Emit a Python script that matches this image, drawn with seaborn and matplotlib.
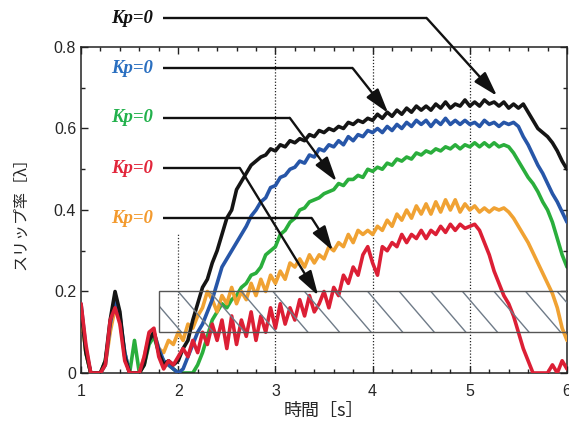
import numpy as np
import pandas as pd
import matplotlib
matplotlib.use("Agg")
import matplotlib.pyplot as plt
import seaborn as sns
from matplotlib.patches import Rectangle
from matplotlib.ticker import MultipleLocator, FixedLocator

# Slip ratio traces, sampled every 0.05 s from 1.0 s to 6.0 s
black = [0.16, 0.05, 0.00, 0.00, 0.00, 0.03, 0.13, 0.20, 0.15, 0.04,
         0.00, 0.00, 0.00, 0.02, 0.08, 0.10, 0.05, 0.02, 0.03, 0.02,
         0.03, 0.06, 0.08, 0.13, 0.17, 0.21, 0.23, 0.27, 0.30, 0.34,
         0.38, 0.40, 0.45, 0.47, 0.49, 0.51, 0.52, 0.53, 0.535, 0.55,
         0.545, 0.56, 0.555, 0.57, 0.565, 0.575, 0.57, 0.585, 0.58, 0.595,
         0.59, 0.60, 0.595, 0.605, 0.60, 0.615, 0.61, 0.62, 0.615, 0.625,
         0.62, 0.635, 0.625, 0.64, 0.63, 0.645, 0.635, 0.65, 0.64, 0.655,
         0.645, 0.655, 0.645, 0.66, 0.65, 0.665, 0.65, 0.66, 0.655, 0.67,
         0.655, 0.665, 0.655, 0.67, 0.66, 0.665, 0.655, 0.665, 0.65, 0.66,
         0.65, 0.66, 0.64, 0.62, 0.60, 0.59, 0.58, 0.565, 0.545, 0.52,
         0.50]
blue = [0.17, 0.06, 0.00, 0.00, 0.00, 0.02, 0.12, 0.18, 0.14, 0.05,
        0.00, 0.00, 0.00, 0.03, 0.08, 0.10, 0.06, 0.03, 0.02, 0.01,
        0.00, 0.01, 0.04, 0.07, 0.10, 0.12, 0.15, 0.18, 0.22, 0.26,
        0.28, 0.30, 0.32, 0.34, 0.36, 0.385, 0.40, 0.42, 0.43, 0.455,
        0.46, 0.48, 0.485, 0.50, 0.505, 0.52, 0.515, 0.535, 0.53, 0.55,
        0.545, 0.56, 0.555, 0.57, 0.56, 0.58, 0.57, 0.585, 0.58, 0.595,
        0.59, 0.60, 0.59, 0.605, 0.595, 0.61, 0.60, 0.615, 0.605, 0.62,
        0.61, 0.62, 0.605, 0.62, 0.61, 0.625, 0.61, 0.62, 0.61, 0.62,
        0.61, 0.615, 0.605, 0.62, 0.61, 0.615, 0.605, 0.615, 0.61, 0.615,
        0.605, 0.58, 0.56, 0.535, 0.51, 0.49, 0.465, 0.44, 0.42, 0.395,
        0.37]
green = [0.16, 0.05, 0.00, 0.00, 0.00, 0.03, 0.11, 0.17, 0.13, 0.05,
         0.00, 0.08, 0.00, 0.02, 0.07, 0.09, 0.05, 0.03, 0.02, 0.01,
         0.00, 0.00, 0.00, 0.00, 0.02, 0.05, 0.09, 0.13, 0.15, 0.17,
         0.16, 0.18, 0.19, 0.21, 0.22, 0.24, 0.245, 0.26, 0.29, 0.30,
         0.31, 0.34, 0.35, 0.37, 0.38, 0.40, 0.405, 0.42, 0.425, 0.43,
         0.44, 0.445, 0.45, 0.465, 0.46, 0.475, 0.475, 0.485, 0.48, 0.50,
         0.495, 0.505, 0.50, 0.515, 0.51, 0.525, 0.52, 0.53, 0.525, 0.54,
         0.535, 0.545, 0.54, 0.55, 0.545, 0.555, 0.55, 0.56, 0.55, 0.56,
         0.555, 0.565, 0.555, 0.565, 0.555, 0.565, 0.555, 0.56, 0.555, 0.54,
         0.52, 0.50, 0.48, 0.465, 0.445, 0.42, 0.40, 0.37, 0.33, 0.29,
         0.26]
orange = [0.15, 0.05, 0.00, 0.00, 0.00, 0.02, 0.10, 0.16, 0.13, 0.04,
          0.00, 0.00, 0.00, 0.04, 0.09, 0.10, 0.06, 0.05, 0.08, 0.07,
          0.10, 0.08, 0.12, 0.11, 0.14, 0.16, 0.20, 0.18, 0.15, 0.19,
          0.17, 0.21, 0.17, 0.20, 0.18, 0.22, 0.19, 0.23, 0.20, 0.24,
          0.22, 0.25, 0.23, 0.27, 0.26, 0.28, 0.26, 0.29, 0.27, 0.29,
          0.28, 0.31, 0.30, 0.32, 0.31, 0.34, 0.32, 0.35, 0.34, 0.35,
          0.34, 0.36, 0.35, 0.375, 0.36, 0.39, 0.375, 0.40, 0.38, 0.41,
          0.39, 0.415, 0.39, 0.42, 0.395, 0.425, 0.40, 0.425, 0.395, 0.415,
          0.40, 0.41, 0.395, 0.405, 0.395, 0.405, 0.40, 0.405, 0.395, 0.38,
          0.36, 0.34, 0.32, 0.295, 0.27, 0.245, 0.22, 0.195, 0.16, 0.11,
          0.08]
red = [0.17, 0.07, 0.00, 0.00, 0.00, 0.02, 0.13, 0.16, 0.12, 0.03,
       0.00, 0.00, 0.00, 0.04, 0.10, 0.11, 0.04, 0.01, 0.03, 0.02,
       0.04, 0.06, 0.04, 0.08, 0.05, 0.10, 0.07, 0.12, 0.08, 0.13,
       0.06, 0.14, 0.07, 0.13, 0.09, 0.15, 0.08, 0.14, 0.10, 0.16,
       0.11, 0.17, 0.12, 0.16, 0.13, 0.18, 0.14, 0.19, 0.15, 0.17,
       0.20, 0.16, 0.21, 0.19, 0.24, 0.22, 0.26, 0.24, 0.29, 0.31,
       0.27, 0.24, 0.31, 0.30, 0.32, 0.31, 0.34, 0.32, 0.34, 0.33,
       0.35, 0.33, 0.35, 0.34, 0.36, 0.345, 0.365, 0.35, 0.365, 0.355,
       0.36, 0.365, 0.35, 0.32, 0.29, 0.25, 0.22, 0.19, 0.17, 0.14,
       0.10, 0.06, 0.03, 0.00, 0.00, 0.00, 0.00, 0.02, 0.00, 0.03,
       0.01]

series_names = ["green", "orange", "blue", "black", "red"]
series_values = {"black": black, "blue": blue, "green": green,
                 "orange": orange, "red": red}
line_colors = {"black": "#151515", "blue": "#2756a8", "green": "#2aae3c",
               "orange": "#f0a233", "red": "#dc1f35"}

# Call-out labels (top to bottom) and where their arrows point
label_text = "Kp=0"
label_order = ["black", "blue", "green", "red", "orange"]
label_colors = {"black": "#111111", "blue": "#2a6fc0", "green": "#22b14c",
                "red": "#e2263b", "orange": "#f39a2e"}
label_y = {"black": 0.871, "blue": 0.748, "green": 0.626,
           "red": 0.503, "orange": 0.380}
bend_x = {"black": 4.556, "blue": 3.795, "green": 3.148,
          "red": 2.634, "orange": 3.374}
tip_xy = {"black": (5.28, 0.68), "blue": (4.16, 0.638), "green": (3.63, 0.47),
          "red": (3.44, 0.19), "orange": (3.59, 0.30)}

frames = []
for name in series_names:
    vals = series_values[name]
    frames.append(pd.DataFrame({"time": np.linspace(1.0, 6.0, len(vals)),
                                "slip": vals, "trace": name}))
df = pd.concat(frames, ignore_index=True)

sns.set_style("ticks")
plt.rcParams["font.family"] = ["Liberation Sans", "Noto Sans CJK JP", "DejaVu Sans"]

fig = plt.figure(figsize=(5.69, 4.23), dpi=100)
ax = fig.add_axes([0.1424, 0.1182, 0.8541, 0.7707])

# dotted guides
for xv in [3, 4, 5]:
    ax.axvline(xv, color="#222222", lw=0.9, ls=(0, (1, 1.5)), zorder=1)
ax.vlines(2, 0, 0.34, color="#333333", lw=0.9, ls=(0, (1, 1.5)), zorder=1)

for i, name in enumerate(series_names):
    sns.lineplot(data=df[df["trace"] == name], x="time", y="slip",
                 color=line_colors[name], lw=2.6, ax=ax, estimator=None,
                 sort=False, zorder=2 + i)

# hatched target band
band = Rectangle((1.8, 0.1), 4.2, 0.1, fill=False, edgecolor="#555555",
                 lw=1.0, zorder=10)
ax.add_patch(band)
hatch_step, hatch_run = 0.325, 0.36
for k in range(-2, 14):
    x0 = 2.0 + k * hatch_step
    ln, = ax.plot([x0, x0 + hatch_run], [0.2, 0.1], color="#6f7b88", lw=1.0,
                  zorder=9)
    ln.set_clip_path(band)

# call-outs
for name in label_order:
    y = label_y[name]
    ax.text(1.74, y, label_text, color=label_colors[name], ha="right",
            va="center", fontsize=13.5, fontweight="bold", fontstyle="italic",
            family=["Liberation Serif"], clip_on=False, zorder=20)
    ax.plot([1.845, bend_x[name]], [y, y], color="#111111", lw=1.7,
            clip_on=False, zorder=20, solid_capstyle="butt")
    ax.annotate("", xy=tip_xy[name], xytext=(bend_x[name], y),
                arrowprops=dict(arrowstyle="-|>,head_length=1.5,head_width=0.45",
                                color="#111111", lw=1.7, shrinkA=0, shrinkB=0,
                                mutation_scale=10),
                annotation_clip=False, zorder=20)

ax.set_xlim(1, 6)
ax.set_ylim(0, 0.8)
ax.xaxis.set_major_locator(FixedLocator([1, 2, 3, 4, 5, 6]))
ax.xaxis.set_minor_locator(MultipleLocator(0.2))
ax.yaxis.set_major_locator(FixedLocator([0, 0.2, 0.4, 0.6, 0.8]))
ax.yaxis.set_minor_locator(MultipleLocator(0.1))
ax.set_yticklabels(["0", "0.2", "0.4", "0.6", "0.8"])
ax.tick_params(which="both", direction="in", top=True, right=True,
               labelsize=11.5, color="#222222", width=1.0)
ax.tick_params(which="major", length=5)
ax.tick_params(which="minor", length=3)
ax.tick_params(axis="x", which="major", pad=8)
for s in ax.spines.values():
    s.set_color("#222222")
    s.set_linewidth(1.1)

ax.set_xlabel("時間［s］", fontsize=13, labelpad=2,
              family=["Noto Sans CJK JP", "DejaVu Sans"])
ax.set_ylabel("スリップ率［λ］", fontsize=11.5, labelpad=18,
              family=["Noto Sans CJK JP", "DejaVu Sans"])

fig.savefig("out.png", dpi=100)
